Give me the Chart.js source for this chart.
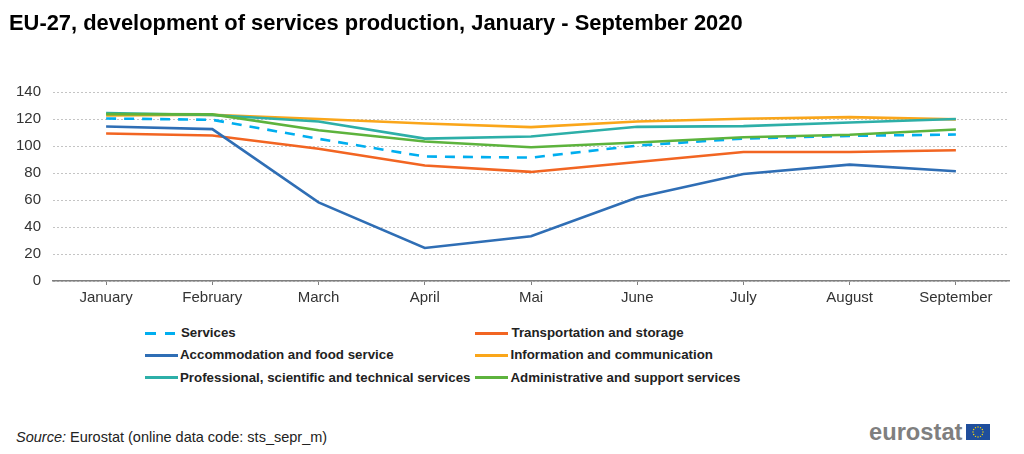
<!DOCTYPE html>
<html>
<head>
<meta charset="utf-8">
<script src="https://cdn.jsdelivr.net/npm/chart.js@4"></script>
<style>
    html, body { margin: 0; padding: 0; background: #fff; }
    body { width: 1024px; height: 454px; position: relative; overflow: hidden; font-family: "Liberation Sans", Arial, sans-serif; color: #000; }
    #chart-box { position: absolute; left: 0; top: 0; width: 1024px; height: 320px; }
    #title { position: absolute; left: 9px; top: 10px; font-size: 21.9px; font-weight: bold; white-space: nowrap; }
    .legend-item { position: absolute; font-size: 13.3px; font-weight: bold; color: #222; white-space: nowrap; line-height: 14px; }
    .legend-line { position: absolute; width: 33px; height: 0; border-top: 3px solid; }
    #source { position: absolute; left: 16px; top: 429px; font-size: 14.5px; color: #222; white-space: nowrap; }
    #logo { position: absolute; left: 869px; top: 419px; font-size: 23.7px; font-weight: bold; color: #7f7f7f; white-space: nowrap; }
    #flag { position: absolute; left: 966px; top: 424px; }
</style>
</head>
<body>
<div id="chart-box"><canvas id="chart"></canvas></div>
<div id="title">EU-27, development of services production, January - September 2020</div>
<div id="legend"></div>
<div id="source"><i>Source:</i> Eurostat (online data code: sts_sepr_m)</div>
<div id="logo">eurostat</div>
<svg id="flag" width="24" height="16" viewBox="0 0 24 16"><rect width="24" height="16" fill="#1f4e9c"/><g id="stars" fill="#ffdd00"></g></svg>
<script>
const months = ['January', 'February', 'March', 'April', 'Mai', 'June', 'July', 'August', 'September'];
const yTicks = [0, 20, 40, 60, 80, 100, 120, 140];

const services = [120.4, 119.4, 105.3, 92.2, 91.4, 100.3, 105.5, 107.5, 108.5];
const transport = [109.3, 107.8, 97.9, 85.5, 80.8, 88.2, 95.6, 95.6, 96.9];
const accommodation = [114.5, 112.5, 58.2, 24.5, 33.2, 61.9, 79.3, 86.2, 81.3];
const information = [122.6, 123.1, 120, 116.7, 114, 118.2, 120.2, 121.4, 119.7];
const professional = [124.4, 123, 118.2, 105.5, 107, 114.2, 114.7, 117.4, 120];
const administrative = [123.6, 123.4, 111.7, 103.3, 99.1, 102.6, 106.5, 108.3, 112.2];

const seriesList = [
    { label: 'Services', data: services, color: '#00AEEF', dash: [10, 8] },
    { label: 'Transportation and storage', data: transport, color: '#F26522' },
    { label: 'Accommodation and food service', data: accommodation, color: '#2F6EB5' },
    { label: 'Information and communication', data: information, color: '#FAA61A' },
    { label: 'Professional, scientific and technical services', data: professional, color: '#2DAFA8' },
    { label: 'Administrative and support services', data: administrative, color: '#5DB33D' }
];

new Chart(document.getElementById('chart'), {
    type: 'line',
    data: {
        labels: months,
        datasets: seriesList.map((s, i) => ({
            label: s.label,
            data: s.data,
            borderColor: s.color,
            borderWidth: 2.6,
            borderDash: s.dash || [],
            pointRadius: 0,
            tension: 0,
            order: seriesList.length - i
        }))
    },
    options: {
        responsive: true,
        maintainAspectRatio: false,
        animation: false,
        layout: { padding: { top: 92, right: 15, bottom: 0, left: 0 } },
        plugins: { legend: { display: false }, tooltip: { enabled: false } },
        scales: {
            x: {
                offset: true,
                afterFit: scale => { scale.height = 39; },
                border: { color: '#7f7f7f', width: 1.5 },
                grid: { drawOnChartArea: false, drawTicks: true, tickLength: 4, color: '#7f7f7f', lineWidth: 1 },
                ticks: { color: '#333', font: { family: '"Liberation Sans"', size: 15 }, padding: 4, maxRotation: 0, autoSkip: false }
            },
            y: {
                min: 0,
                max: 140,
                afterFit: scale => { scale.width = 53; },
                afterBuildTicks: scale => { scale.ticks = yTicks.map(v => ({ value: v })); },
                border: { display: false, dash: [2, 2] },
                grid: { color: '#c4c4c4', lineWidth: 1, drawTicks: false },
                ticks: { color: '#333', font: { family: '"Liberation Sans"', size: 15 }, padding: 12 }
            }
        }
    }
});

// legend, two columns
const legendBox = document.getElementById('legend');
const legendX = [144.5, 475];
const legendY = [333, 355, 377.5];
seriesList.forEach((s, i) => {
    const col = i % 2, row = Math.floor(i / 2);
    const line = document.createElement('div');
    line.className = 'legend-line';
    line.style.left = legendX[col] + 'px';
    line.style.top = (legendY[row] - 1.5) + 'px';
    if (s.dash) {
        line.style.borderTop = 'none';
        line.style.height = '3px';
        line.style.background = `linear-gradient(90deg, ${s.color} 0 11px, transparent 11px 20px, ${s.color} 20px 30px, transparent 30px)`;
    } else {
        line.style.borderTopColor = s.color;
    }
    legendBox.appendChild(line);
    const text = document.createElement('div');
    text.className = 'legend-item';
    text.textContent = s.label;
    text.style.left = (legendX[col] + 35.5 + (row === 0 ? 1 : 0)) + 'px';
    text.style.top = (legendY[row] - 7) + 'px';
    legendBox.appendChild(text);
});

// EU flag stars
const stars = document.getElementById('stars');
for (let i = 0; i < 12; i++) {
    const a = i * Math.PI / 6;
    const c = document.createElementNS('http://www.w3.org/2000/svg', 'circle');
    c.setAttribute('cx', 12 + 5 * Math.cos(a));
    c.setAttribute('cy', 8 + 5 * Math.sin(a));
    c.setAttribute('r', 0.7);
    stars.appendChild(c);
}
</script>
</body>
</html>
